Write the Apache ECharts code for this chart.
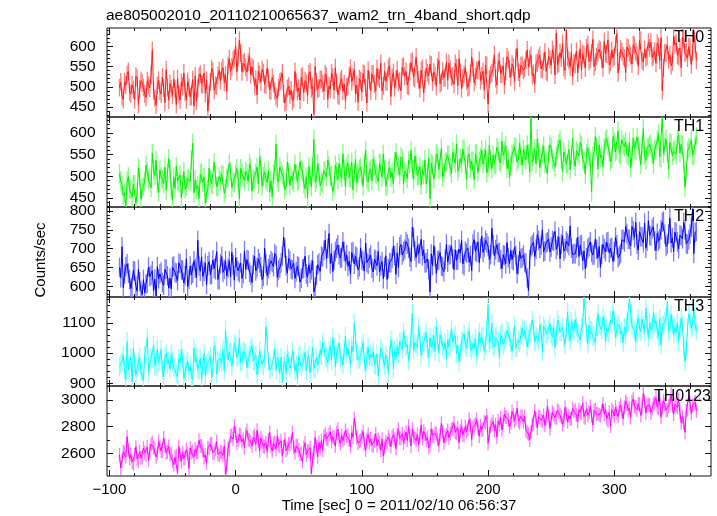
<!DOCTYPE html>
<html><head><meta charset="utf-8">
<script src="https://cdn.jsdelivr.net/npm/echarts@6/dist/echarts.min.js"></script>
<style>html,body{margin:0;padding:0;background:#fff}#c{width:717px;height:516px}</style>
</head><body><div id="c"></div>
<script>
// ---------------- data ----------------
const chartTitle = 'ae805002010_20110210065637_wam2_trn_4band_short.qdp';
const xTitle = 'Time [sec] 0 = 2011/02/10 06:56:37';
const yTitle = 'Counts/sec';
const bandNames = ['TH0', 'TH1', 'TH2', 'TH3', 'TH0123'];
const tStart = -92;   // first 1-s bin; "even" arrays hold bins tStart, tStart+2, ...; "odd" arrays hold tStart+1, tStart+3, ...

const TH0_even = [
498,476,512,530,487,505,468,521,494,509,
482,515,497,590,472,503,489,524,461,498,
508,479,495,520,467,501,486,513,475,518,
526,497,532,505,484,440,512,538,503,528,
515,547,529,552,538,566,600,572,583,558,
548,561,530,545,519,538,512,535,505,521,
489,508,476,498,515,483,463,501,492,470,
511,497,523,486,508,532,495,432,512,497,
518,489,526,502,534,491,510,477,520,507,
499,528,513,541,504,520,487,531,460,516,
532,507,545,519,490,538,512,551,523,498,
541,515,549,526,504,537,563,520,531,496,
545,518,534,556,512,528,549,507,539,522,
516,543,527,558,503,536,521,547,498,533,
548,525,540,515,538,554,457,529,546,521,
560,532,551,538,567,524,549,572,536,553,
541,566,549,578,533,557,570,544,562,538,
575,553,580,632,558,571,548,640,566,585,
559,588,567,541,579,596,562,584,550,575,
593,568,612,581,554,590,575,631,563,586,
571,598,583,556,602,579,615,566,592,575,
596,572,588,608,565,490,584,603,579,561,
603,578,596,622,583,571,598,586,605
];
const TH0_odd = [
512,469,504,538,482,493,526,456,515,498,
473,504,528,490,455,516,482,497,542,467,
495,519,456,481,511,534,467,500,476,453,
465,526,507,534,516,481,545,491,502,540,
540,511,489,569,549,571,537,615,537,562,
536,576,549,503,480,530,543,506,546,492,
523,489,471,512,534,460,496,480,465,538,
488,467,527,515,479,537,501,550,494,518,
508,532,469,494,524,547,480,513,489,466,
501,546,524,483,462,515,533,498,541,490,
532,489,524,558,502,513,546,476,535,518,
511,490,550,538,502,560,524,573,517,541,
485,546,527,554,536,501,565,511,522,560,
558,524,506,547,569,495,531,515,500,573,
510,541,565,527,492,553,519,534,579,504,
565,531,504,574,544,556,512,595,522,552,
546,591,569,528,507,560,578,543,586,535,
568,592,529,554,584,607,540,573,549,526,
555,534,594,582,546,604,568,617,561,585,
590,547,582,616,560,571,604,534,593,576,
535,596,577,604,586,551,615,561,572,610,
610,576,558,599,621,547,583,567,552,625,
608,574,547,617,587,599,555,638,565
];
const TH1_even = [
506,478,462,489,470,452,481,463,497,472,
489,511,496,553,502,484,515,493,521,508,
516,447,472,489,503,481,470,495,488,576,
492,478,505,486,438,469,494,481,502,476,
489,503,471,496,512,487,505,493,518,498,
511,488,519,495,507,482,526,500,493,514,
490,506,574,487,512,495,478,509,501,486,
505,491,517,483,499,522,476,585,494,508,
487,513,498,524,502,479,511,530,496,515,
521,497,533,508,484,516,502,528,493,512,
489,524,505,531,498,517,478,520,509,534,
527,503,540,512,495,529,516,547,501,522,
515,538,507,448,526,511,545,520,498,532,
549,521,556,530,512,541,563,527,546,518,
535,552,509,543,528,561,520,538,549,526,
557,531,548,571,539,524,553,566,540,548,
562,538,552,636,544,529,556,541,570,533,
551,567,532,548,575,540,556,528,562,549,
538,559,547,571,533,552,545,464,556,568,
572,549,565,587,556,541,578,560,553,584,
568,551,579,546,563,590,557,572,548,566,
574,552,561,583,545,636,569,556,578,548,
562,585,554,571,475,558,566,549,572
];
const TH1_odd = [
490,456,429,499,469,481,437,520,447,477,
526,492,474,515,537,463,499,483,468,541,
468,499,523,485,450,511,477,492,537,462,
470,449,509,497,461,519,483,532,476,500,
504,461,496,530,474,485,518,448,507,490,
505,529,466,491,521,544,477,510,486,463,
453,514,495,522,504,469,533,479,490,528,
489,534,512,471,450,503,521,486,529,478,
483,514,538,500,465,526,492,507,552,477,
530,496,469,539,509,521,477,560,487,517,
540,506,488,529,551,477,513,497,482,555,
521,545,482,507,537,560,493,526,502,479,
503,482,542,530,494,552,516,565,509,533,
549,506,541,575,519,530,563,493,552,535,
492,553,534,561,543,508,572,518,529,567,
536,581,559,518,497,550,568,533,576,525,
548,572,509,534,564,587,520,553,529,506,
573,539,521,562,584,510,546,530,515,588,
523,554,578,540,505,566,532,547,592,517,
543,522,582,570,534,592,556,605,549,573,
580,546,519,589,559,571,527,610,537,567,
572,529,564,598,542,553,586,516,575,558,
551,596,574,533,512,565,583,548,591
];
const TH2_even = [
650,705,632,660,618,596,640,587,612,578,
583,608,626,641,619,652,633,610,645,628,
622,651,637,615,660,643,628,599,654,635,
648,722,640,626,662,655,631,670,644,618,
659,637,668,648,625,657,676,641,662,634,
645,669,630,658,641,673,652,627,660,647,
668,652,681,643,662,731,655,674,646,661,
639,652,621,648,633,657,644,585,629,662,
680,695,673,740,688,669,701,684,676,692,
684,667,690,659,678,652,670,641,663,675,
648,672,655,638,666,651,618,663,674,682,
689,705,683,698,712,677,757,694,708,686,
681,662,673,585,655,679,668,690,652,671,
664,685,673,697,670,688,659,693,702,681,
712,693,718,701,690,722,706,684,711,697,
689,671,684,660,676,695,668,682,657,674,
683,661,589,705,717,698,722,709,691,715,
726,704,719,698,731,712,693,720,708,701,
688,702,679,711,694,676,705,690,683,698,
706,685,700,717,689,703,692,710,681,724,
718,740,725,759,729,712,745,731,768,720,
735,752,720,741,726,770,738,712,781,729,
744,718,736,726,750,712,739,805,743
];
const TH2_odd = [
623,597,652,635,594,642,601,645,589,618,
606,651,629,588,574,620,638,603,646,595,
593,654,635,662,644,609,673,619,630,668,
623,654,678,640,605,666,632,647,692,617,
679,645,627,668,690,616,652,636,621,694,
671,637,610,680,650,662,618,701,628,658,
663,687,624,649,679,702,635,668,644,621,
654,611,646,680,624,635,668,598,657,640,
678,723,701,660,639,692,710,675,718,667,
653,632,692,680,644,702,666,715,659,683,
638,669,693,655,620,681,647,662,707,632,
650,711,692,719,701,666,730,676,687,725,
697,663,645,686,708,634,670,654,639,712,
683,707,644,669,699,722,655,688,664,641,
724,690,663,733,703,715,671,754,681,711,
690,647,682,716,660,671,704,634,693,676,
663,622,672,710,679,737,701,750,694,718,
691,722,746,708,673,734,700,715,760,685,
686,731,709,668,647,700,718,683,726,675,
650,711,692,719,701,666,730,676,687,725,
759,725,707,748,770,696,732,716,701,774,
734,758,695,720,750,773,706,739,715,692,
743,700,735,769,713,724,757,687,746
];
const TH3_even = [
956,971,945,1038,952,905,968,949,985,941,
993,1050,967,982,958,1012,975,944,986,963,
948,975,953,922,967,981,940,972,959,912,
970,946,983,958,928,965,989,952,1003,976,
982,1011,1077,977,1003,986,1020,994,968,1005,
999,981,1012,975,993,961,983,958,1088,972,
951,978,944,969,986,957,932,974,960,981,
963,988,955,977,941,993,968,950,985,971,
992,1018,985,1007,976,1021,998,1034,987,1010,
996,1015,1024,1099,1003,981,1012,968,991,977,
985,962,997,971,1003,958,979,992,1016,1008,
1021,1039,1012,1045,1028,1008,1132,1034,1019,1047,
1026,1041,1015,1052,1030,1004,1038,1061,1022,1035,
1045,1019,1037,1058,1026,1003,1040,1029,1054,1017,
1032,1049,1021,1036,1057,1028,1160,1044,1019,1051,
1038,1062,1029,1046,1071,1035,1052,1018,1043,1060,
1055,1074,1048,1069,1083,1057,1041,1072,1090,1063,
1078,1062,1085,1059,1094,1070,1048,1081,1067,1105,
1072,1089,1061,1084,1185,1066,1092,1075,1058,1087,
1093,1077,1101,1082,1068,1096,1110,1079,1088,1072,
1085,1102,1180,1091,1074,1097,1083,1112,1069,1093,
1101,1084,1097,1076,1115,1089,1104,1170,1081,1095,
1086,1102,1079,1093,972,1084,1108,1091,1097
];
const TH3_odd = [
964,995,913,946,985,1015,927,970,939,909,
994,938,983,1027,955,969,1012,921,998,975,
997,953,930,983,1012,915,962,941,922,1017,
987,943,908,999,960,975,918,1026,931,970,
968,941,1019,1003,956,1032,985,1049,976,1007,
951,992,1023,973,928,1007,963,983,1041,944,
955,1014,985,932,905,974,997,951,1007,941,
913,993,968,1003,980,934,1018,947,962,1011,
1036,992,969,1022,1051,954,1001,980,961,1056,
1016,960,1005,1049,977,991,1034,943,1020,997,
1004,960,925,1016,977,992,935,1043,948,987,
998,1039,1070,1020,975,1054,1010,1030,1088,991,
1037,1068,986,1019,1058,1088,1000,1043,1012,982,
1021,1080,1051,998,971,1040,1063,1017,1073,1007,
1018,991,1069,1053,1006,1082,1035,1099,1026,1057,
985,1065,1040,1075,1052,1006,1090,1019,1034,1083,
1076,1020,1065,1109,1037,1051,1094,1003,1080,1057,
1097,1053,1018,1109,1070,1085,1028,1136,1041,1080,
1111,1067,1044,1097,1126,1029,1076,1055,1036,1131,
1089,1120,1038,1071,1110,1140,1052,1095,1064,1034,
1059,1100,1131,1081,1036,1115,1071,1091,1149,1052,
1076,1135,1106,1053,1026,1095,1118,1072,1128,1062,
1066,1039,1117,1020,1010,1130,1083,1147,1074
];
const TH0123_even = [
2590,2548,2603,2725,2561,2534,2589,2557,2612,2570,
2604,2648,2621,2679,2635,2598,2652,2617,2660,2611,
2590,2543,2571,2452,2589,2605,2562,2598,2640,2615,
2633,2608,2656,2621,2587,2642,2669,2605,2630,2592,
2612,2585,2437,2640,2729,2706,2752,2698,2735,2710,
2741,2703,2687,2722,2668,2694,2715,2653,2680,2701,
2648,2675,2631,2663,2694,2650,2620,2671,2687,2642,
2655,2628,2601,2642,2587,2615,2450,2603,2650,2681,
2697,2725,2708,2741,2689,2719,2752,2703,2734,2711,
2728,2700,2755,2862,2717,2690,2724,2672,2706,2681,
2662,2694,2658,2681,2707,2645,2676,2699,2720,2705,
2738,2712,2746,2721,2697,2733,2781,2715,2742,2728,
2710,2745,2719,2661,2733,2752,2706,2738,2760,2724,
2771,2748,2786,2759,2792,2766,2740,2803,2779,2812,
2795,2821,2788,2807,2776,2830,2675,2802,2838,2815,
2843,2868,2835,2872,2851,2829,2886,2857,2841,2876,
2838,2772,2745,2762,2821,2858,2874,2849,2886,2862,
2881,2857,2893,2869,2912,2874,2848,2897,2883,2860,
2915,2889,2928,2901,2875,2934,2907,2882,2921,2896,
2888,2917,2893,2861,2909,2926,2880,2903,2937,2912,
2946,2972,2938,2985,2951,2927,2968,2944,2990,2957,
2961,2935,2978,2949,3010,2942,2966,2921,2974,2953,
2968,2944,2905,2874,2758,2930,2972,2958,2985
];
const TH0123_odd = [
2490,2612,2574,2628,2592,2522,2650,2542,2564,2640,
2591,2549,2669,2645,2573,2689,2617,2715,2603,2651,
2599,2513,2583,2651,2539,2561,2627,2487,2605,2571,
2607,2697,2653,2571,2529,2635,2671,2601,2687,2585,
2606,2654,2508,2628,2738,2804,2680,2741,2688,2642,
2771,2698,2657,2734,2773,2620,2687,2650,2615,2756,
2618,2680,2728,2652,2582,2704,2636,2666,2756,2606,
2660,2592,2538,2678,2618,2642,2554,2720,2574,2634,
2622,2744,2706,2760,2724,2654,2782,2674,2696,2772,
2736,2650,2720,2788,2676,2698,2764,2624,2742,2708,
2657,2747,2703,2621,2579,2685,2721,2651,2737,2635,
2781,2713,2677,2759,2803,2655,2727,2695,2665,2811,
2765,2697,2643,2783,2723,2747,2659,2825,2679,2739,
2716,2778,2826,2750,2680,2802,2734,2764,2854,2704,
2806,2854,2728,2778,2838,2884,2750,2816,2768,2722,
2816,2774,2894,2870,2798,2914,2842,2940,2828,2876,
2876,2758,2702,2814,2918,2790,2872,2840,2810,2956,
2785,2907,2869,2923,2887,2817,2945,2837,2859,2935,
2924,2838,2908,2976,2864,2886,2952,2812,2930,2896,
2882,2972,2928,2846,2804,2910,2946,2876,2962,2860,
2990,2922,2868,3008,2948,2972,2884,3050,2904,2964,
2906,2968,3016,2940,2870,2992,2924,2954,3044,2894,
2956,3004,2828,2828,2918,3034,2900,2966,2918
];
const bandErr = [22, 22, 26, 31, 52];     // 1-sigma error bar half-height (counts/sec)

const xRange = [-101.9, 376.6];
const xMajorTicks = [-100, 0, 100, 200, 300];
const xMinorStep = 20;
const yRanges = [[425.3, 645.2], [429.2, 636.9], [571.6, 810.6], [891, 1185.8], [2430, 3105]];
const yMajorTicks = [[450, 500, 550, 600], [450, 500, 550, 600], [600, 650, 700, 750, 800], [900, 1000, 1100], [2600, 2800, 3000]];
const yMinorStep = [10, 10, 10, 20, 100];

// ---------------- layout / style ----------------
const bandsEven = [TH0_even, TH1_even, TH2_even, TH3_even, TH0123_even];
const bandsOdd = [TH0_odd, TH1_odd, TH2_odd, TH3_odd, TH0123_odd];
const FONT = '"Liberation Sans", Arial, Helvetica, sans-serif';
const colors = [['#ff1a1a', '#ff7a7a'], ['#00f000', '#7dff7d'], ['#0000ff', '#7a7aff'], ['#00ffff', '#8cffff'], ['#ff00ff', '#ff7aff']];
const gridLeft = 107, gridWidth = 604;
const tops = [28, 117, 207, 297, 386], heights = [89, 90, 90, 89, 90];
const labelLeft = [674, 674, 674, 674, 654];

function minorValues(lo, hi, step, majors) {
  const out = [];
  for (let v = Math.ceil(lo / step) * step; v <= hi; v += step) {
    if (majors.indexOf(v) < 0) out.push(v);
  }
  return out;
}
const fmt = v => (v < 0 ? '\u2212' + (-v) : String(v));

const grids = [], xAxes = [], yAxes = [], series = [], graphics = [];
bandsEven.forEach((ev, k) => {
  const od = bandsOdd[k];
  const pts = [];
  for (let i = 0; i < ev.length; i++) {
    pts.push([tStart + 2 * i, ev[i]]);
    if (i < od.length) pts.push([tStart + 2 * i + 1, od[i]]);
  }

  grids.push({ left: gridLeft, width: gridWidth, top: tops[k], height: heights[k],
    show: true, borderColor: '#111', borderWidth: 1, backgroundColor: 'transparent' });

  const xMinor = minorValues(xRange[0], xRange[1], xMinorStep, xMajorTicks);
  const mkX = (pos, ticks, len, showLabel) => ({
    type: 'value', gridIndex: k, position: pos, min: xRange[0], max: xRange[1],
    axisLine: { show: false, onZero: false }, splitLine: { show: false }, silent: true,
    axisTick: { show: true, inside: true, length: len, customValues: ticks, lineStyle: { color: '#111', width: 1 } },
    axisLabel: { show: showLabel, customValues: ticks, margin: 6, color: '#000', fontSize: 15, fontFamily: FONT, formatter: fmt }
  });
  xAxes.push(mkX('bottom', xMajorTicks, 6, k === 4));
  xAxes.push(mkX('bottom', xMinor, 3, false));
  xAxes.push(mkX('top', xMajorTicks, 6, false));
  xAxes.push(mkX('top', xMinor, 3, false));

  const yr = yRanges[k];
  const yMinor = minorValues(yr[0], yr[1], yMinorStep[k], yMajorTicks[k]);
  const mkY = (pos, ticks, len, showLabel) => ({
    type: 'value', gridIndex: k, position: pos, min: yr[0], max: yr[1],
    axisLine: { show: false, onZero: false }, splitLine: { show: false }, silent: true,
    axisTick: { show: true, inside: true, length: len, customValues: ticks, lineStyle: { color: '#111', width: 1 } },
    axisLabel: { show: showLabel, customValues: ticks, margin: 11.5, color: '#000', fontSize: 15.5, fontFamily: FONT, formatter: v => String(v) }
  });
  yAxes.push(mkY('left', yMajorTicks[k], 6, true));
  yAxes.push(mkY('left', yMinor, 3, false));
  yAxes.push(mkY('right', yMajorTicks[k], 6, false));
  yAxes.push(mkY('right', yMinor, 3, false));

  const err = bandErr[k];
  series.push({
    type: 'custom', xAxisIndex: 4 * k, yAxisIndex: 4 * k, clip: true, silent: true, z: 2,
    data: pts,
    renderItem: (params, api) => {
      const x = api.value(0), y = api.value(1);
      const a = api.coord([x, y - err]), b = api.coord([x, y + err]);
      return { type: 'line', shape: { x1: a[0], y1: a[1], x2: b[0], y2: b[1] },
        style: { stroke: colors[k][1], lineWidth: 1.3 } };
    }
  });
  series.push({
    type: 'line', xAxisIndex: 4 * k, yAxisIndex: 4 * k, data: pts, showSymbol: false, clip: true,
    silent: true, animation: false, z: 3,
    lineStyle: { color: colors[k][0], width: 1 }
  });

  graphics.push({ type: 'text', x: labelLeft[k], y: tops[k] + (k === 4 ? 11 : 10), z: 10,
    style: { text: bandNames[k], fill: '#000', fontSize: 16, fontFamily: FONT,
      textAlign: 'left', align: 'left', textVerticalAlign: 'middle', verticalAlign: 'middle' } });
});

graphics.push({ type: 'text', x: 106, y: 15.5,
  style: { text: chartTitle, fill: '#000', fontSize: 15.5, fontFamily: FONT,
    textAlign: 'left', align: 'left', textVerticalAlign: 'middle', verticalAlign: 'middle' } });
graphics.push({ type: 'text', x: 399, y: 505.5,
  style: { text: xTitle, fill: '#000', fontSize: 15, fontFamily: FONT,
    textAlign: 'center', align: 'center', textVerticalAlign: 'middle', verticalAlign: 'middle' } });
graphics.push({ type: 'text', x: 41, y: 260, rotation: Math.PI / 2,
  style: { text: yTitle, fill: '#000', fontSize: 15, fontFamily: FONT,
    textAlign: 'center', align: 'center', textVerticalAlign: 'middle', verticalAlign: 'middle' } });

const chart = echarts.init(document.getElementById('c'), null, { renderer: 'canvas' });
chart.setOption({
  animation: false,
  backgroundColor: '#fff',
  grid: grids, xAxis: xAxes, yAxis: yAxes, series: series, graphic: graphics
});
</script>
</body></html>
